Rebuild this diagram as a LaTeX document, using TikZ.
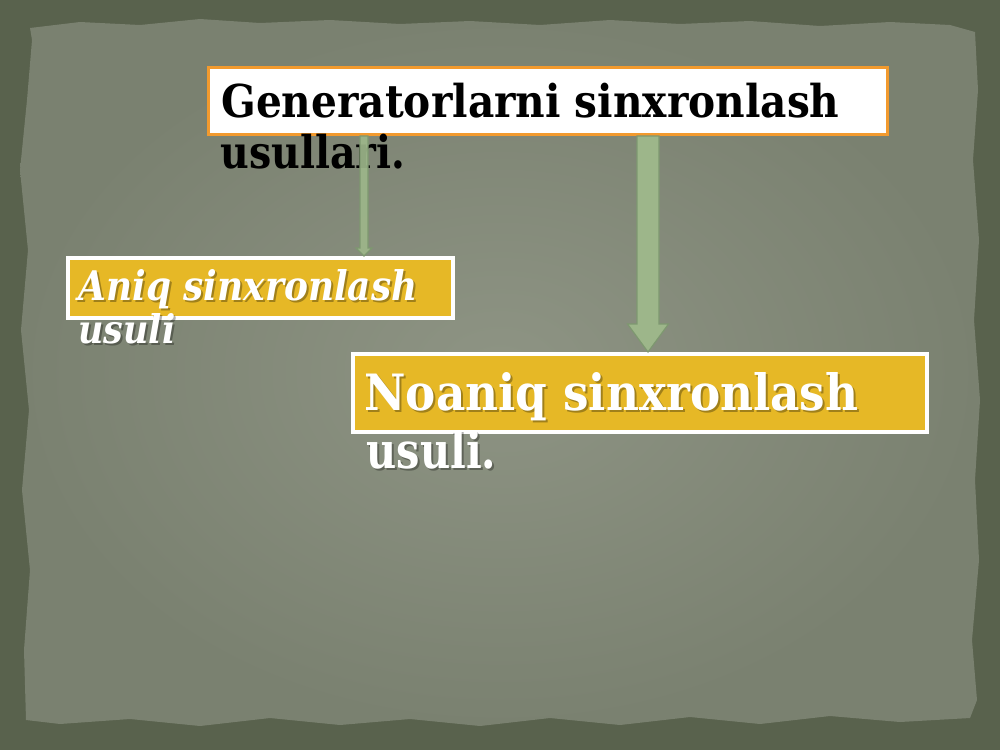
\documentclass[tikz,border=0pt]{standalone}
\usepackage{fontspec}
\usepackage{graphicx}
\setmainfont{DejaVu Serif}
\usetikzlibrary{calc,shadows}
\definecolor{outerbg}{HTML}{59624D}
\definecolor{paperin}{HTML}{8E9484}
\definecolor{paperout}{HTML}{7A8170}
\definecolor{boxorange}{HTML}{F29A2E}
\definecolor{boxgold}{HTML}{E6B826}
\definecolor{arrfill}{HTML}{9DB68A}
\definecolor{arrline}{HTML}{7E9870}
\tikzset{
  genbox/.style={draw=boxorange, line width=1.5pt, fill=white, inner sep=0pt, anchor=north west,
    drop shadow={shadow xshift=0.8pt, shadow yshift=-0.8pt, opacity=.3}},
  goldbox/.style={draw=white, line width=2pt, fill=boxgold, inner sep=0pt, anchor=north west,
    drop shadow={shadow xshift=0.8pt, shadow yshift=-0.8pt, opacity=.3}},
  txt/.style={inner sep=0pt, anchor=base west},
  wtxt/.style={txt, text=white},
  shd/.style={txt, text=black, opacity=.3},
  blockarrow/.style={fill=arrfill, draw=arrline, line width=0.6pt, line join=miter},
}
\newcommand{\fitbox}[3]{\resizebox{#1}{#2}{#3}}
\begin{document}
\begin{tikzpicture}[x=0.5pt,y=-0.5pt]
\useasboundingbox (0,0) rectangle (1000,750);
% background
\fill[outerbg] (0,0) rectangle (1000,750);
\shade[inner color=paperin, outer color=paperout]
  (30,28) -- (80,22) -- (140,25) -- (200,19) -- (260,23) -- (330,20) -- (400,24) -- (470,21) -- (540,25) -- (610,20) -- (680,24) -- (750,21) -- (820,26) -- (890,22) -- (950,25) -- (975,32)
  -- (978,90) -- (973,160) -- (979,240) -- (974,320) -- (980,400) -- (975,480) -- (979,560) -- (972,640) -- (977,700) -- (970,718)
  -- (900,722) -- (830,716) -- (760,724) -- (690,717) -- (620,725) -- (550,718) -- (480,726) -- (410,719) -- (340,725) -- (270,718) -- (200,726) -- (130,719) -- (60,724) -- (26,720)
  -- (24,650) -- (30,570) -- (22,490) -- (29,410) -- (21,330) -- (28,250) -- (20,170) -- (27,100) -- (32,40) -- cycle;

% boxes
\node[genbox, minimum width=339.5pt, minimum height=33.5pt] (gen) at (207,66) {};
\node[goldbox, minimum width=192.5pt, minimum height=30pt] (aniq) at (66,256) {};
\node[goldbox, minimum width=287pt, minimum height=39pt] (noaniq) at (351,352) {};

% top texts
\node[txt] (gen1) at (221,117) {\fitbox{309pt}{17.2pt}{\bfseries Generatorlarni sinxronlash}};
\node[txt] (gen2) at (220,168) {\fitbox{92.5pt}{17.2pt}{\bfseries usullari.}};

% aniq texts
\node[shd] (aniq1s) at (80,302) {\fitbox{169.5pt}{15.5pt}{\bfseries\itshape Aniq sinxronlash}};
\node[wtxt] (aniq1) at (78,300) {\fitbox{169.5pt}{15.5pt}{\bfseries\itshape Aniq sinxronlash}};
\node[shd] (aniq2s) at (80,345) {\fitbox{48.5pt}{15pt}{\bfseries\itshape usuli}};
\node[wtxt] (aniq2) at (78,343) {\fitbox{48.5pt}{15pt}{\bfseries\itshape usuli}};

% noaniq texts
\node[shd] (noaniq1s) at (366,412) {\fitbox{247pt}{19pt}{\bfseries Noaniq sinxronlash}};
\node[wtxt] (noaniq1) at (364,410) {\fitbox{247pt}{19pt}{\bfseries Noaniq sinxronlash}};
\node[shd] (noaniq2s) at (368,470) {\fitbox{65pt}{19pt}{\bfseries usuli.}};
\node[wtxt] (noaniq2) at (366,468) {\fitbox{65pt}{19pt}{\bfseries usuli.}};

% arrows
\coordinate (xa) at (364,0);
\coordinate (xb) at (648,0);
\draw[blockarrow, fill opacity=.92]
  let \p1=(xa |- gen.south), \p2=(xa |- aniq.north) in
  (\x1-2pt,\y1) -- (\x1+2pt,\y1) -- (\x1+2pt,\y2+4pt) -- (\x1+4pt,\y2+4pt)
  -- (\x2,\y2) -- (\x1-4pt,\y2+4pt) -- (\x1-2pt,\y2+4pt) -- cycle;
\draw[blockarrow]
  let \p1=(xb |- gen.south), \p2=(xb |- noaniq.north) in
  (\x1-5.5pt,\y1) -- (\x1+5.5pt,\y1) -- (\x1+5.5pt,\y2+14pt) -- (\x1+10.25pt,\y2+14pt)
  -- (\x2,\y2) -- (\x1-10.25pt,\y2+14pt) -- (\x1-5.5pt,\y2+14pt) -- cycle;
\end{tikzpicture}
\end{document}
